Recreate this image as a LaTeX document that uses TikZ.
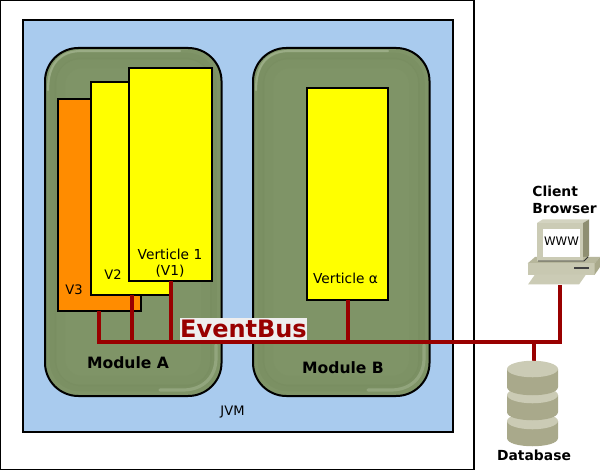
\documentclass[tikz,border=0pt]{standalone}
\usepackage{fontspec}
\setmainfont{DejaVu Sans}
\usetikzlibrary{calc}
\definecolor{busred}{HTML}{990000}
\definecolor{jvmblue}{HTML}{A9CBEE}
\definecolor{modgreen}{HTML}{7F9467}
\definecolor{modlight}{HTML}{A6B793}
\definecolor{moddark}{HTML}{66794F}
\definecolor{vorange}{HTML}{FF8C00}
\definecolor{vyellow}{HTML}{FFFF00}
\definecolor{labelbg}{HTML}{EEEEEE}
\definecolor{iconlight}{HTML}{CBCBB5}
\definecolor{iconmid}{HTML}{A9A98B}
\definecolor{icondark}{HTML}{8F8F72}
\tikzset{
  every node/.style={inner sep=0pt,outer sep=0pt},
  vbox/.style={draw=black,line width=1.5pt,minimum width=#1,anchor=north west,align=center},
  bus/.style={draw=busred,line width=2.3pt},
  plain/.style={font=\fontsize{10.3pt}{12pt}\selectfont,align=center},
  small/.style={font=\fontsize{9.8pt}{12pt}\selectfont,align=center},
  boldlabel/.style={font=\fontsize{11.7pt}{14pt}\selectfont\bfseries,align=left},
  iconlabel/.style={font=\fontsize{10.4pt}{12.6pt}\selectfont\bfseries,align=left},
}
\newcommand{\dbdisc}[2]{%
  \fill[iconmid] (507,#1) -- (507,#2) .. controls (507,#2+11) and (558,#2+11) .. (558,#2) -- (558,#1) -- cycle;
  \fill[iconlight] (532.5,#1) ellipse [x radius=19.1pt,y radius=6.2pt];
}
\begin{document}
\begin{tikzpicture}[x=0.75pt,y=-0.75pt]
\useasboundingbox (0,0) rectangle (600,470);
\fill[white] (0,0) rectangle (600,470);
% outer and JVM
\node[draw=black,line width=1pt,fill=white,minimum width=355.5pt,minimum height=352.5pt,anchor=north west] (outer) at (0,0) {};
\node[draw=black,line width=1pt,fill=jvmblue,minimum width=322.5pt,minimum height=309pt,anchor=north west] (jvm) at (23,20) {};
\node[small] (jvmlabel) at (232.5,412) {JVM};
% modules
\foreach \mx/\mn in {45/modA,253/modB}{
  \fill[modgreen,rounded corners=25pt] (\mx,48) rectangle ++(176.5,348);
  \draw[moddark,line width=5pt,opacity=.14,rounded corners=20pt] (\mx+8,56) rectangle ++(160.5,332);
  \draw[moddark,line width=8pt,opacity=.06,rounded corners=16pt] (\mx+15,63) rectangle ++(146.5,318);
  \draw[modlight,line width=1.6pt,line cap=round,opacity=.7] (\mx+3,90) .. controls (\mx+3,64) and (\mx+15,51) .. (\mx+36,51) -- (\mx+135,51);
  \draw[modlight,line width=2.4pt,line cap=round,opacity=.55] (\mx+171,345) -- (\mx+171,358) .. controls (\mx+171,377) and (\mx+158,390) .. (\mx+138,390) -- (\mx+115,390);
  \node[draw=black,line width=1.5pt,rounded corners=25pt,minimum width=132.4pt,minimum height=261pt,anchor=north west] (\mn) at (\mx,48) {};
}
\node[vbox=62.2pt,fill=vorange,minimum height=159pt] (v3) at (58,99) {};
\node[vbox=59.2pt,fill=vyellow,minimum height=159.7pt] (v2) at (91,82.5) {};
\node[vbox=62.2pt,fill=vyellow,minimum height=160pt] (v1) at (129,68) {};
\node[vbox=61pt,fill=vyellow,minimum height=159pt] (va) at (307,88) {};
\node[small] (v3t) at (74,290) {V3};
\node[small] (v2t) at (113,275) {V2};
\node[plain] (v1t) at (170,263) {Verticle 1\\(V1)};
\node[plain] (vat) at (345.5,278) {Verticle α};
\node[boldlabel] (mAt) at (128,363) {Module A};
\node[boldlabel] (mBt) at (343,368) {Module B};
% named coordinates on the bus
\coordinate (b3) at (99,342);
\coordinate (b2) at (132,342);
\coordinate (b1) at (171,342);
\coordinate (ba) at (348,342);
\coordinate (bd) at (534,342);
\coordinate (bc) at (560,342);
\coordinate (pc) at (560,285);
\coordinate (dbtop) at (534,362);
\coordinate (v3b) at (99,311);
\coordinate (v2b) at (132,295);
\coordinate (v1b) at (171,281);
\coordinate (vab) at (348,300);
\draw[bus] (v3b) -- (b3) -- (bc) -- (pc);
\draw[bus] (v2b) -- (b2);
\draw[bus] (v1b) -- (b1);
\draw[bus] (vab) -- (ba);
\draw[bus] (bd) -- (dbtop);
\node[fill=labelbg,text=busred,font=\fontsize{18pt}{20pt}\selectfont\bfseries,minimum width=95.5pt,minimum height=17pt] (ebus) at (243.5,329) {EventBus};
% computer icon
\fill[iconlight!85!white] (537,223) -- (542.5,219.5) -- (589,219.5) -- (583,223) -- cycle;
\fill[icondark] (583,223) -- (589,219.5) -- (589,256) -- (583,261) -- cycle;
\fill[iconmid!60!iconlight] (527.5,263.5) -- (535,257) -- (600,257) -- (594.5,263.5) -- cycle;
\fill[iconlight!90!iconmid] (527.5,263.5) rectangle (594.5,275);
\fill[iconmid] (594.5,263.5) -- (600,257) -- (600,267) -- (594.5,275) -- cycle;
\fill[iconlight] (537,223) rectangle (583,261);
\fill[white] (543,229) rectangle (580,257);
\draw[black!80,line width=.7pt] (538,261) -- (584,261) -- (588,257);
\fill[iconlight] (528,284.5) -- (535,274.5) -- (586,274.5) -- (579,284.5) -- cycle;
\fill[black!75] (574,267.5) rectangle (589,269.5);
\node[font=\fontsize{8.8pt}{10pt}\selectfont] (www) at (561.5,241.5) {WWW};
\node[iconlabel] (client) at (564.5,199.5) {Client\\Browser};
% database icon
\dbdisc{421}{438}
\dbdisc{395}{412}
\dbdisc{369}{387}
\node[iconlabel] (dbt) at (534,455) {Database};
\end{tikzpicture}
\end{document}
